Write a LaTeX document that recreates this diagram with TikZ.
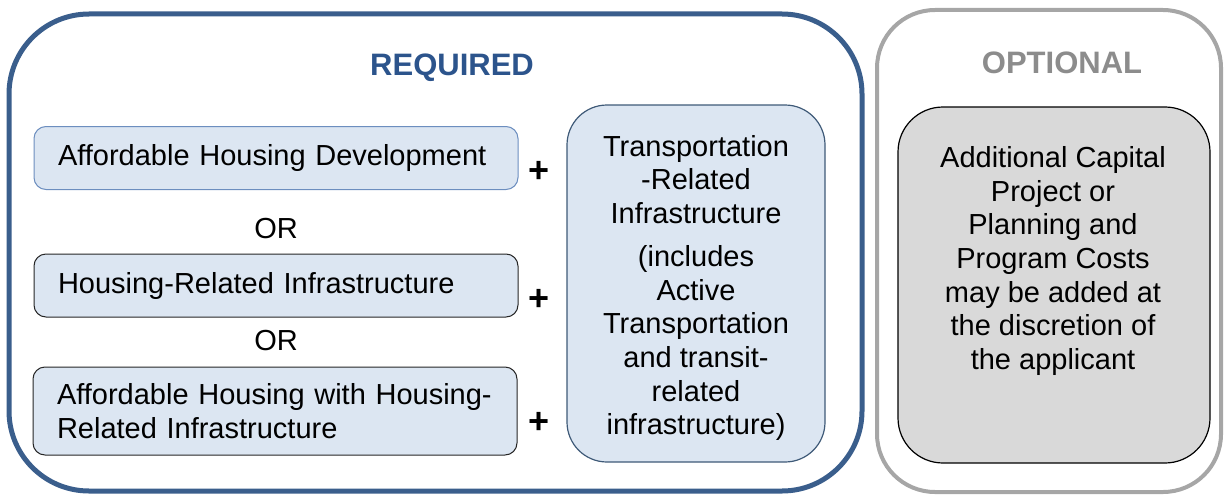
\documentclass[tikz,border=0pt]{standalone}
\usepackage{fontspec}
\setmainfont{Liberation Sans}
\definecolor{reqblue}{RGB}{58,94,140}
\definecolor{reqtext}{RGB}{44,84,140}
\definecolor{optgray}{RGB}{166,166,166}
\definecolor{opttext}{RGB}{140,140,140}
\definecolor{lightfill}{RGB}{220,230,242}
\definecolor{grayfill}{RGB}{217,217,217}
\definecolor{box1line}{RGB}{108,142,191}
\definecolor{tbline}{RGB}{63,90,120}
\begin{document}
\begin{tikzpicture}[x=1pt,y=-1pt,
  txt/.style={font=\fontsize{29}{33.7}\selectfont},
  head/.style={font=\fontsize{31}{36}\selectfont\bfseries},
  leftbox/.style={draw=#1, line width=1pt, fill=lightfill, rounded corners=12pt,
    minimum width=484pt, align=left, text width=436pt, inner xsep=24pt, inner ysep=0pt,
    font=\fontsize{29}{33.7}\selectfont},
  plus/.style={font=\fontsize{36}{40}\selectfont\bfseries},
]
\useasboundingbox (0,0) rectangle (1225,495);
% outer frames
\node[draw=reqblue, line width=5pt, rounded corners=80pt, minimum width=853pt, minimum height=477pt, inner sep=0pt] (req) at (435.5,252.5) {};
\node[draw=optgray, line width=4pt, rounded corners=58pt, minimum width=344pt, minimum height=482pt, inner sep=0pt] (opt) at (1049,251) {};
% headings
\node[head, text=reqtext] (reqhead) at (452,68) {REQUIRED};
\node[head, text=opttext] (opthead) at (1062,63) {OPTIONAL};
% left boxes
\node[leftbox=box1line, minimum height=63pt] (b1) at (276,158) {Affordable Housing Development};
\node[leftbox=black!85, minimum height=63pt] (b2) at (276,285.5) {Housing-Related Infrastructure};
\node[leftbox=black!85, minimum height=88pt] (b3) at (275,411) {Affordable Housing with Housing-\\Related Infrastructure};
\node[txt] (or1) at (276,229) {OR};
\node[txt] (or2) at (276,341) {OR};
% plus signs
\node[plus] (p1) at (539,172) {+};
\node[plus] (p2) at (539,300) {+};
\node[plus] (p3) at (539,423) {+};
% transportation box
\node[draw=tbline, line width=1.2pt, fill=lightfill, rounded corners=40pt, minimum width=258pt, minimum height=357pt, inner sep=0pt] (tb) at (696,283.5) {};
\node[txt, align=center] (tbtext) at (696,288) {Transportation\\-Related\\Infrastructure\\[9pt](includes\\Active\\Transportation\\and transit-\\related\\infrastructure)};
% optional inner box
\node[draw=black, line width=1.2pt, fill=grayfill, rounded corners=45pt, minimum width=312pt, minimum height=356pt, inner sep=0pt] (ob) at (1054,285) {};
\node[txt, align=center] (obtext) at (1053,261) {Additional Capital\\Project or\\Planning and\\Program Costs\\may be added at\\the discretion of\\the applicant};
\end{tikzpicture}
\end{document}
